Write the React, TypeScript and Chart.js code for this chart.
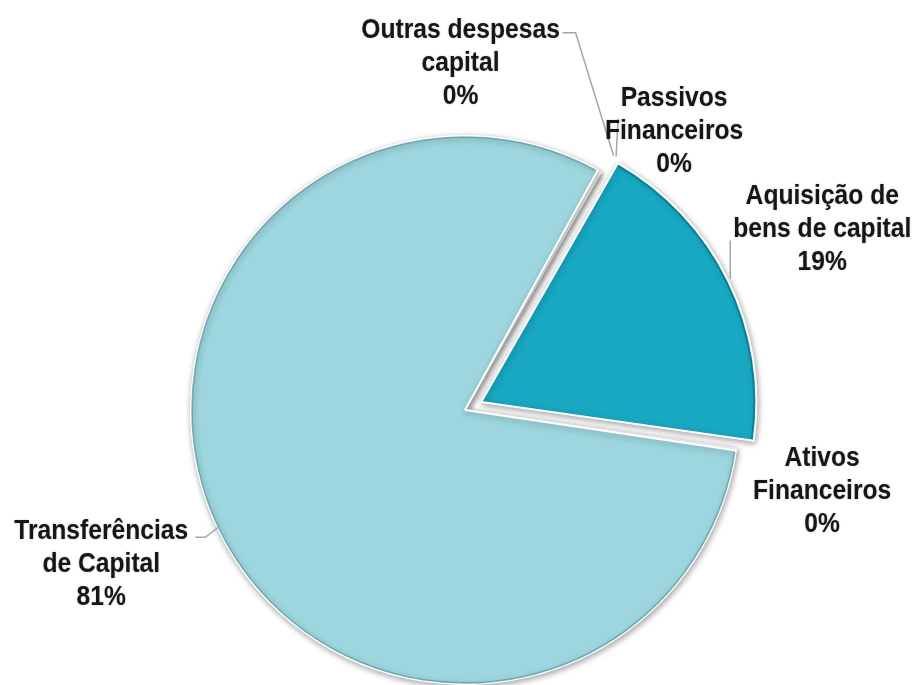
import React, { useEffect, useRef } from "react";
import { Chart, registerables } from "chart.js";
Chart.register(...registerables);

const categories = [
  "Outras despesas capital",
  "Passivos Financeiros",
  "Aquisição de bens de capital",
  "Ativos Financeiros",
  "Transferências de Capital",
];
const labelLines = [
  ["Outras despesas", "capital"],
  ["Passivos", "Financeiros"],
  ["Aquisição de", "bens de capital"],
  ["Ativos", "Financeiros"],
  ["Transferências", "de Capital"],
];
const values = [0.1, 0.1, 19.0, 0.1, 80.7];

const sliceColors = ["#9dd6de", "#9dd6de", "#18a8c2", "#9dd6de", "#9dd6de"];
// explode distance in px (Chart.js arc draws offset/4)
const explodePx = [0, 0, 18, 0, 0];
// label centre relative to slice outer anchor point
const labelShift = [
  [-138, -107],
  [74, -40],
  [95, -52],
  [86, 42],
  [-118, 33],
];
// leader line points relative to anchor
const leaderPts: number[][][] = [
  [[15, -15], [-23, -138], [-36, -138]],
  [[16, -15], [18, -53]],
  [[3, -3], [3, -41]],
  [],
  [[-1, -4], [-14, 6], [-24, 6]],
];

const FONT = "bold 28px 'Liberation Sans', Arial, sans-serif";
const XSCALE = 0.88;
const LINE_H = 33;

const shadowPlugin = {
  id: "pieShadow",
  beforeDatasetsDraw(chart: any) {
    const ctx = chart.ctx;
    ctx.save();
    ctx.shadowColor = "rgba(0,0,0,0.35)";
    ctx.shadowBlur = 6;
    ctx.shadowOffsetX = 1;
    ctx.shadowOffsetY = 2;
  },
  afterDatasetsDraw(chart: any) {
    const ctx = chart.ctx;
    ctx.restore();
    const meta = chart.getDatasetMeta(0);
    meta.data.forEach((arc: any, i: number) => {
      const p = arc.getProps(["x", "y", "startAngle", "endAngle", "outerRadius"], true);
      if (p.endAngle - p.startAngle < 0.05) return;
      const mid = (p.startAngle + p.endAngle) / 2;
      const off = explodePx[i];
      const cx = p.x + Math.cos(mid) * off;
      const cy = p.y + Math.sin(mid) * off;
      ctx.save();
      ctx.strokeStyle = i === 2 ? "rgba(10,110,130,0.7)" : "rgba(70,140,150,0.65)";
      ctx.lineWidth = 1.5;
      ctx.beginPath();
      ctx.arc(cx, cy, p.outerRadius - 1, p.startAngle + 0.006, p.endAngle - 0.006);
      ctx.stroke();
      ctx.restore();
    });
  },
};

const labelPlugin = {
  id: "outLabels",
  afterDraw(chart: any) {
    const ctx = chart.ctx;
    const meta = chart.getDatasetMeta(0);
    const total = values.reduce((a, b) => a + b, 0);
    meta.data.forEach((arc: any, i: number) => {
      const p = arc.getProps(["x", "y", "startAngle", "endAngle", "outerRadius"], true);
      const mid = (p.startAngle + p.endAngle) / 2;
      const r = p.outerRadius + explodePx[i];
      const ax = p.x + Math.cos(mid) * r;
      const ay = p.y + Math.sin(mid) * r;
      const pts = leaderPts[i];
      if (pts.length) {
        ctx.save();
        ctx.strokeStyle = "#a6a6a6";
        ctx.lineWidth = 1.5;
        ctx.beginPath();
        pts.forEach((q, k) => {
          if (k === 0) ctx.moveTo(ax + q[0], ay + q[1]);
          else ctx.lineTo(ax + q[0], ay + q[1]);
        });
        ctx.stroke();
        ctx.restore();
      }
      const lines = [...labelLines[i], Math.round((values[i] / total) * 100) + "%"];
      const cx = ax + labelShift[i][0];
      const cy = ay + labelShift[i][1];
      ctx.save();
      ctx.font = FONT;
      ctx.fillStyle = "#161616";
      ctx.textAlign = "center";
      ctx.textBaseline = "middle";
      ctx.shadowColor = "rgba(0,0,0,0.25)";
      ctx.shadowBlur = 2;
      lines.forEach((t, k) => {
        const ly = cy + (k - (lines.length - 1) / 2) * LINE_H;
        ctx.save();
        ctx.translate(cx, ly);
        ctx.scale(XSCALE, 1);
        ctx.fillText(t, 0, 0);
        ctx.restore();
      });
      ctx.restore();
    });
  },
};

export default function App() {
  const ref = useRef<HTMLCanvasElement>(null);
  useEffect(() => {
    if (!ref.current) return;
    const chart = new Chart(ref.current, {
      type: "pie",
      data: {
        labels: categories,
        datasets: [
          {
            data: values,
            backgroundColor: sliceColors,
            borderColor: "#ffffff",
            borderWidth: 2,
            offset: explodePx.map((v) => v * 4),
            clip: false as any,
          },
        ],
      },
      options: {
        animation: false,
        responsive: false,
        maintainAspectRatio: false,
        devicePixelRatio: 1,
        rotation: 29,
        radius: 274,
        layout: { padding: { left: 17, top: 135, right: 0, bottom: 0 } },
        plugins: {
          legend: { display: false },
          tooltip: { enabled: false },
        },
      } as any,
      plugins: [shadowPlugin, labelPlugin],
    });
    return () => chart.destroy();
  }, []);
  return (
    <div style={{ position: "absolute", left: 0, top: 0, width: 913, height: 685, background: "#fff" }}>
      <canvas ref={ref} width={913} height={685} />
    </div>
  );
}
